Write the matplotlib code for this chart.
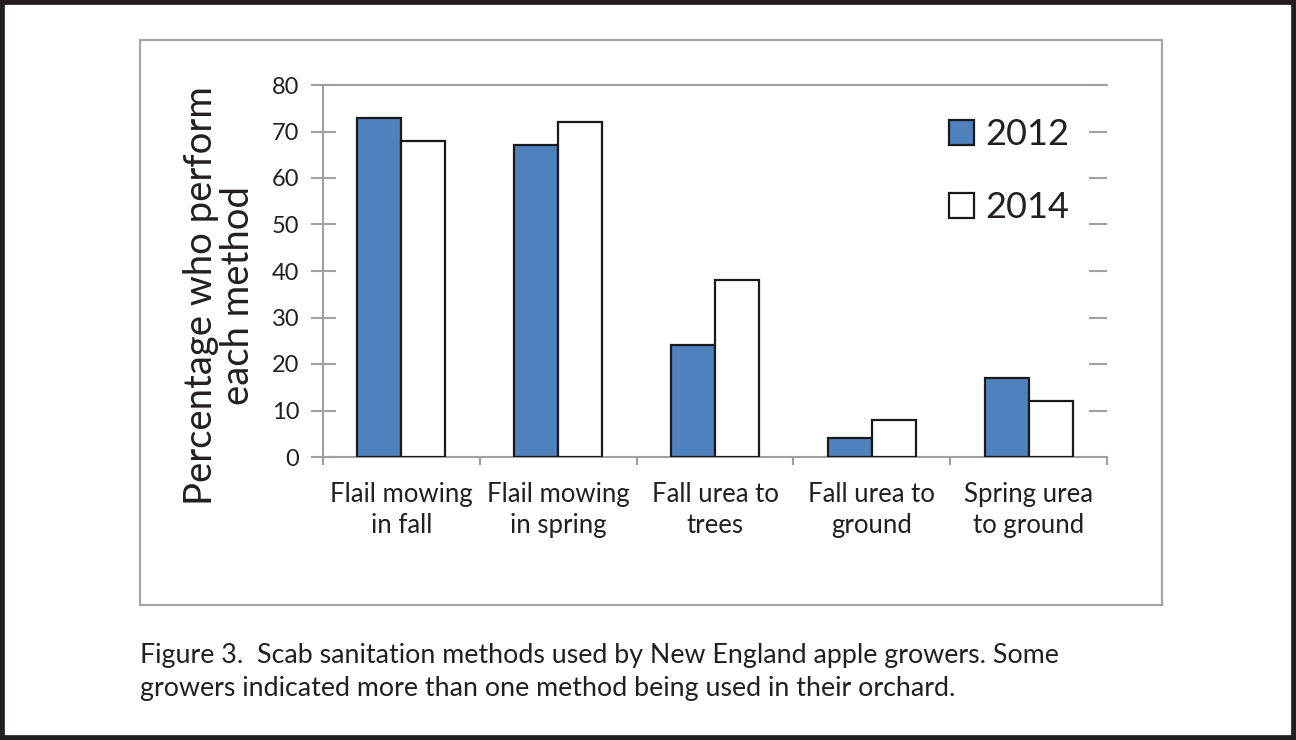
import numpy as np
import matplotlib
matplotlib.use("Agg")
import matplotlib.pyplot as plt
from matplotlib.patches import Rectangle

plt.rcParams['font.family'] = ['Lato', 'DejaVu Sans']

# data
categories = ["Flail mowing\nin fall", "Flail mowing\nin spring", "Fall urea to\ntrees",
              "Fall urea to\nground", "Spring urea\nto ground"]
vals_2012 = [73, 67, 24, 4, 17]
vals_2014 = [68, 72, 38, 8, 12]
series_names = ["2012", "2014"]
yticks = [0, 10, 20, 30, 40, 50, 60, 70, 80]

W, H = 1296, 740
fig = plt.figure(figsize=(W / 100, H / 100), dpi=100)

# outer black border and grey chart frame
fig.patches.append(Rectangle((0, 0), 1, 1, transform=fig.transFigure, fill=False,
                             edgecolor='#231f20', lw=7))
fig.patches.append(Rectangle((140 / W, 1 - 605 / H), (1162 - 140) / W, (605 - 40) / H,
                             transform=fig.transFigure, fill=False,
                             edgecolor='#a6a6a6', lw=1.6))

ax = fig.add_axes([323 / W, 1 - 457 / H, (1107 - 323) / W, (457 - 85) / H])
grey = '#a0a0a0'
x = np.arange(len(categories))
bw = 0.28
ax.bar(x - bw / 2, vals_2012, bw, color='#4f81bd', edgecolor='#1a1a1a', lw=1.6,
       label=series_names[0], zorder=3)
ax.bar(x + bw / 2, vals_2014, bw, color='white', edgecolor='#1a1a1a', lw=1.6,
       label=series_names[1], zorder=3)

ax.set_xlim(-0.5, len(categories) - 0.5)
ax.set_ylim(0, 80)
ax.set_yticks(yticks)
ax.tick_params(axis='y', labelsize=17, colors=grey, labelcolor='#231f20',
               direction='inout', length=18, width=1.5, pad=8)
ax.set_xticks(x)
ax.set_xticklabels(categories, fontsize=18.5, color='#231f20', linespacing=1.3)
ax.set_xticks(np.arange(len(categories) + 1) - 0.5, minor=True)
ax.tick_params(axis='x', which='major', length=0, pad=18)
ax.tick_params(axis='x', which='minor', length=6, width=1.5, color=grey)

for s in ['left', 'bottom', 'top']:
    ax.spines[s].set_color(grey)
    ax.spines[s].set_linewidth(1.5)
ax.spines['right'].set_visible(False)

# right-hand inward ticks (no axis line)
ax2 = ax.twinx()
ax2.set_ylim(0, 80)
ax2.set_yticks(yticks[1:])
ax2.tick_params(axis='y', direction='in', length=13, width=1.5, colors=grey, labelright=False)
for s in ax2.spines.values():
    s.set_visible(False)

ax.set_ylabel("Percentage who perform\neach method", fontsize=27.5, color='#231f20',
              linespacing=1.05)
ax.yaxis.set_label_coords(-0.085, 0.433)

leg = ax.legend(loc='upper left', bbox_to_anchor=(931 / W, 1 - 100 / H),
                bbox_transform=fig.transFigure, frameon=False, fontsize=26,
                handlelength=0.7, handleheight=0.7, handletextpad=0.3,
                labelspacing=1.1, borderpad=0)
for t in leg.get_texts():
    t.set_color('#231f20')

fig.text(140 / W, 1 - 643 / H,
         "Figure 3.  Scab sanitation methods used by New England apple growers. Some\n"
         "growers indicated more than one method being used in their orchard.",
         fontsize=19.3, color='#231f20', va='top', ha='left', linespacing=1.4)

fig.savefig("out.png", dpi=100)
